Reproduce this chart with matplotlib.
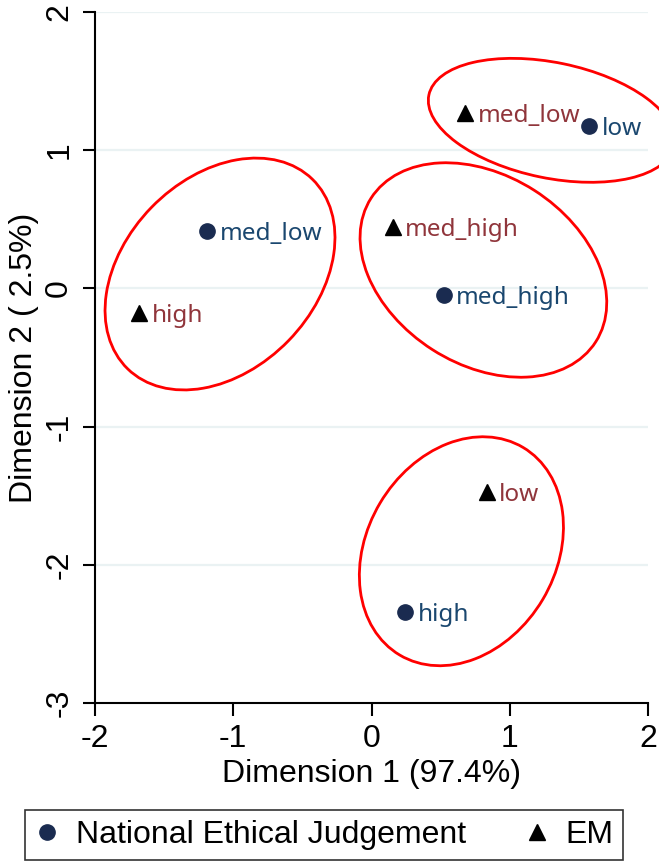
import matplotlib
matplotlib.use("Agg")
import matplotlib.pyplot as plt
from matplotlib.patches import Ellipse
from matplotlib.lines import Line2D

# National Ethical Judgement (circles)
nej_labels = ["low", "med_low", "med_high", "high"]
nej_x = [1.573, -1.188, 0.522, 0.245]
nej_y = [1.175, 0.415, -0.050, -2.344]

# EM (triangles)
em_labels = ["med_low", "high", "med_high", "low"]
em_x = [0.676, -1.680, 0.153, 0.833]
em_y = [1.267, -0.180, 0.446, -1.475]

# grouping ellipses: centre, full width/height, rotation (deg)
ell_cx = [1.302, -1.096, 0.809, 0.650]
ell_cy = [1.216, 0.104, 0.133, -1.902]
ell_w = [1.812, 1.915, 1.929, 1.747]
ell_h = [0.836, 1.383, 1.368, 1.368]
ell_angle = [-11.65, 45.8, -32.6, 59.3]

xticks = [-2, -1, 0, 1, 2]
yticks = [-3, -2, -1, 0, 1, 2]

plt.rcParams["font.family"] = ["Liberation Sans", "DejaVu Sans"]
plt.rcParams["axes.unicode_minus"] = False

fig = plt.figure(figsize=(6.59, 8.68), dpi=100)
ax = fig.add_axes([0.1442, 0.1901, 0.8392, 0.7961])

ax.set_xlim(-2, 2)
ax.set_ylim(-3, 2)

# grid
for y in yticks[1:]:
    ax.axhline(y, color="#eaf2f3", lw=1.6, zorder=0)

# ellipses
for cx, cy, w, h, a in zip(ell_cx, ell_cy, ell_w, ell_h, ell_angle):
    ax.add_patch(Ellipse((cx, cy), w, h, angle=a, fill=False,
                         edgecolor="#ff0000", lw=2.0, clip_on=False, zorder=2))

# points and labels
ax.plot(nej_x, nej_y, "o", color="#1a2b50", ms=11, ls="none", zorder=3,
        clip_on=False)
ax.plot(em_x, em_y, "^", color="black", ms=12, ls="none", zorder=3,
        clip_on=False)
for x, y, s in zip(nej_x, nej_y, nej_labels):
    ax.annotate(s, (x, y), xytext=(9, -2), textcoords="offset points",
                ha="left", va="center", fontsize=17.5, color="#1a476f",
                family=["Noto Sans", "DejaVu Sans"])
for x, y, s in zip(em_x, em_y, em_labels):
    ax.annotate(s, (x, y), xytext=(9, -2), textcoords="offset points",
                ha="left", va="center", fontsize=17.5, color="#90353b",
                family=["Noto Sans", "DejaVu Sans"])

# axes styling
for side in ["top", "right"]:
    ax.spines[side].set_visible(False)
for side in ["left", "bottom"]:
    ax.spines[side].set_linewidth(1.5)
ax.set_xticks(xticks)
ax.set_yticks(yticks)
ax.tick_params(length=9, width=1.5, labelsize=23, pad=6)
for lab in ax.get_yticklabels():
    lab.set_rotation(90)
    lab.set_va("center")
ax.set_xlabel("Dimension 1 (97.4%)", fontsize=23, labelpad=4)
ax.set_ylabel("Dimension 2 ( 2.5%)", fontsize=23, labelpad=4)

handles = [
    Line2D([], [], marker="o", color="#1a2b50", ls="none", ms=11),
    Line2D([], [], marker="^", color="black", ls="none", ms=12),
]
leg = fig.legend(handles, ["National Ethical Judgement", "EM"], ncol=2,
                 loc="center", bbox_to_anchor=(0.4917, 0.038), fontsize=23,
                 frameon=True, fancybox=False, handletextpad=0.5,
                 handlelength=0.8, columnspacing=1.8, borderpad=0.3)
leg.get_frame().set_edgecolor("black")
leg.get_frame().set_linewidth(1.2)

fig.savefig("out.png", dpi=100)
